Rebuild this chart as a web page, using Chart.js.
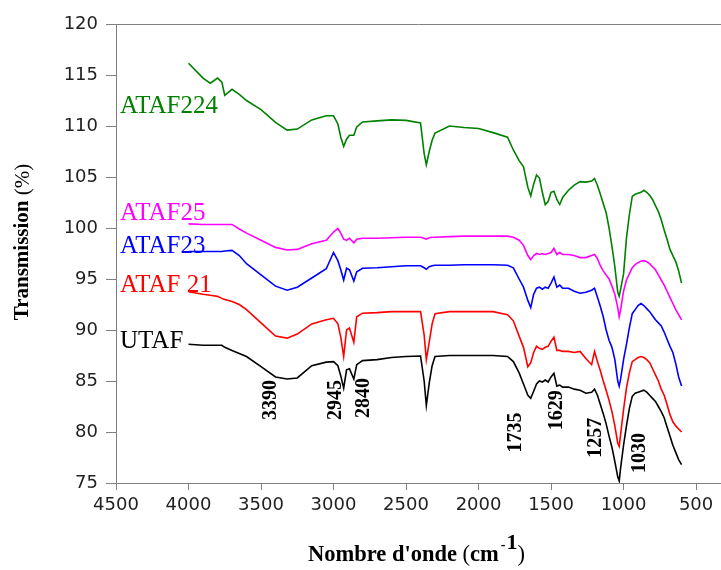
<!DOCTYPE html>
<html><head><meta charset="utf-8">
<script src="https://cdn.jsdelivr.net/npm/chart.js@4/dist/chart.umd.min.js"></script>
<style>html,body{margin:0;padding:0;background:#fff;}</style>
</head><body>
<canvas id="c" width="721" height="570"></canvas>
<script>
const wavenumbers = [4000,3900,3850,3800,3770,3750,3700,3650,3600,3500,3400,3320,3250,3150,3050,3000,2970,2950,2930,2910,2890,2860,2840,2800,2700,2600,2500,2400,2375,2360,2340,2320,2300,2200,2100,2000,1900,1800,1760,1720,1690,1660,1640,1620,1600,1580,1560,1540,1520,1500,1480,1460,1440,1420,1380,1340,1300,1260,1220,1200,1180,1160,1140,1120,1100,1080,1060,1040,1030,1020,1000,980,960,940,920,900,880,860,840,820,800,780,760,740,720,700,680,660,640,620,600];

const utaf = [88.6,88.5,88.5,88.5,88.5,88.3,88.0,87.7,87.4,
86.4,85.4,85.2,85.3,86.5,86.85,86.9,
86.5,85.5,84.3,86.1,86.2,85.2,86.6,87.0,
87.1,87.3,87.4,87.45,85.0,82.6,84.8,86.5,87.4,
87.5,87.5,87.5,87.5,87.4,86.9,85.8,84.7,83.6,83.3,
84.0,84.7,85.0,84.9,85.1,84.9,85.4,85.75,84.5,84.6,84.4,
84.4,84.2,84.1,83.8,83.9,84.2,83.6,82.7,81.8,80.8,79.6,78.5,77.1,75.6,75.2,76.5,
78.7,80.6,82.3,83.5,83.8,83.9,84.0,84.1,83.9,83.6,83.3,83.0,82.5,82.0,81.4,80.5,79.6,78.7,78.0,77.3,76.8];

const ataf21 = [93.75,93.5,93.4,93.3,93.1,93.0,92.8,92.5,92.0,
90.7,89.4,89.2,89.6,90.6,91.0,91.15,
90.6,89.3,87.4,90.0,90.2,88.8,91.3,91.65,
91.7,91.8,91.8,91.8,89.5,87.1,88.8,90.6,91.6,
91.8,91.8,91.8,91.8,91.5,90.9,89.4,88.3,86.4,86.8,
87.8,88.4,88.2,88.1,88.3,88.4,88.9,89.3,88.0,88.0,87.9,
87.9,87.8,87.9,87.2,86.6,87.9,86.9,86.0,85.0,84.1,83.1,82.0,80.6,78.9,78.6,79.8,
82.2,84.3,85.8,86.9,87.1,87.3,87.4,87.3,87.1,86.8,86.2,85.6,85.0,84.2,83.6,82.7,81.7,81.0,80.6,80.3,80.0];

const ataf23 = [97.7,97.7,97.7,97.7,97.7,97.75,97.8,97.3,96.5,
95.4,94.3,93.9,94.2,95.1,96.0,97.6,
96.8,95.9,94.9,96.05,95.9,94.8,95.7,96.05,
96.1,96.2,96.3,96.3,96.1,95.95,96.2,96.3,96.35,
96.35,96.4,96.4,96.4,96.35,96.1,95.0,94.2,92.9,92.2,
93.5,94.1,94.2,94.0,94.2,94.1,94.6,95.2,94.2,94.4,94.1,
94.1,93.8,93.6,93.7,93.9,94.1,93.2,92.3,91.3,90.0,89.0,88.3,87.1,85.0,84.5,85.2,
87.1,88.6,90.2,91.6,92.0,92.4,92.6,92.4,92.1,91.8,91.4,91.0,90.7,90.4,89.8,89.1,88.4,87.8,86.7,85.4,84.5];

const ataf25 = [100.4,100.35,100.35,100.35,100.35,100.35,100.35,99.9,99.5,
98.8,98.1,97.85,97.9,98.45,98.8,99.6,
99.95,99.5,98.9,98.8,99.0,98.55,98.9,99.0,
99.0,99.05,99.1,99.1,99.0,98.9,99.05,99.1,99.1,
99.15,99.2,99.2,99.2,99.2,99.1,98.8,98.3,97.3,96.9,
97.3,97.5,97.4,97.5,97.4,97.5,97.6,98.0,97.4,97.6,97.4,
97.4,97.3,97.1,97.1,97.3,97.4,97.0,96.3,95.8,95.4,95.0,94.3,93.5,92.2,91.3,92.0,
93.8,94.9,95.5,96.1,96.4,96.6,96.75,96.8,96.7,96.5,96.2,95.9,95.4,94.9,94.4,93.8,93.2,92.6,92.0,91.5,91.0];

const ataf224 = [116.15,114.7,114.2,114.7,114.3,113.0,113.6,113.1,112.5,
111.6,110.35,109.6,109.7,110.6,111.0,111.0,
110.2,108.9,108.0,108.7,109.1,109.1,109.9,110.4,
110.5,110.6,110.55,110.3,107.3,106.2,107.5,108.6,109.3,
110.0,109.85,109.75,109.35,108.9,107.65,106.6,106.0,104.0,103.15,
104.3,105.2,104.9,103.5,102.3,102.6,103.5,103.6,102.8,102.3,103.0,
103.7,104.2,104.55,104.5,104.6,104.85,104.2,103.3,102.4,101.5,100.0,98.2,96.2,93.7,93.3,94.0,
95.5,99.0,101.3,103.1,103.3,103.4,103.5,103.7,103.5,103.2,102.8,102.2,101.6,100.8,99.8,98.9,97.9,97.3,96.7,95.8,94.6];

const seriesNames = ['UTAF','ATAF 21','ATAF23','ATAF25','ATAF224'];
const seriesValues = [utaf, ataf21, ataf23, ataf25, ataf224];
const seriesColors = ['#000000','#ff0000','#0000ff','#ff00ff','#008000'];
const seriesLabelLevels = [88.9, 94.4, 98.2, 101.4, 111.9];

const xTicks = [4500,4000,3500,3000,2500,2000,1500,1000,500];
const peakLabels = ['3390','2945','2840','1735','1629','1257','1030'];
const peakLabelX = [3431,2983,2793,1741,1459,1190,886];
const peakLabelTop = [85.1,85.1,85.3,81.9,84.1,81.4,79.9];

const yTitleMain = 'Transmission ';
const yTitleUnit = '(%)';
const xTitleMain = "Nombre d'onde ";

const textPlugin = {
  id: 'texts',
  afterDraw(chart) {
    const {ctx, chartArea: a, scales: {x, y}} = chart;
    ctx.save();
    ctx.strokeStyle = '#808080'; ctx.lineWidth = 1;
    ctx.beginPath(); ctx.moveTo(a.left, a.top + 0.5); ctx.lineTo(a.right, a.top + 0.5); ctx.stroke();

    ctx.font = '25px "Liberation Serif"'; ctx.textBaseline = 'middle'; ctx.textAlign = 'left';
    seriesNames.forEach((n, i) => {
      ctx.fillStyle = seriesColors[i];
      ctx.fillText(n, a.left + 4, y.getPixelForValue(seriesLabelLevels[i]));
    });

    ctx.font = 'bold 20px "Liberation Serif"'; ctx.fillStyle = '#000';
    peakLabels.forEach((p, i) => {
      ctx.save();
      ctx.translate(x.getPixelForValue(peakLabelX[i]), y.getPixelForValue(peakLabelTop[i]));
      ctx.rotate(-Math.PI / 2);
      ctx.textAlign = 'right'; ctx.textBaseline = 'middle';
      ctx.fillText(p, 0, 0);
      ctx.restore();
    });

    // y title
    ctx.save();
    ctx.translate(23, 242); ctx.rotate(-Math.PI / 2);
    ctx.textBaseline = 'middle'; ctx.textAlign = 'left';
    ctx.font = 'bold 21px "Liberation Serif"';
    const w1 = ctx.measureText(yTitleMain).width;
    ctx.font = '21px "Liberation Serif"';
    const w2 = ctx.measureText(yTitleUnit).width;
    let sx = -(w1 + w2) / 2;
    ctx.font = 'bold 21px "Liberation Serif"';
    ctx.fillText(yTitleMain, sx, 0);
    ctx.font = '21px "Liberation Serif"';
    ctx.fillText(yTitleUnit, sx + w1, 0);
    ctx.restore();

    // x title
    ctx.textAlign = 'left'; ctx.textBaseline = 'alphabetic';
    let x0 = 308; const base = 561;
    ctx.font = 'bold 22.5px "Liberation Serif"';
    ctx.fillText(xTitleMain, x0, base);
    x0 += ctx.measureText(xTitleMain).width;
    ctx.font = '22.5px "Liberation Serif"';
    ctx.fillText('(', x0, base);
    x0 += ctx.measureText('(').width;
    ctx.font = 'bold 22.5px "Liberation Serif"';
    ctx.fillText('cm', x0, base);
    x0 += ctx.measureText('cm').width + 2;
    ctx.font = 'bold 14px "Liberation Serif"';
    ctx.fillText('-', x0, base - 12);
    x0 += ctx.measureText('-').width + 1;
    ctx.font = 'bold 22px "Liberation Serif"';
    ctx.fillText('1', x0, base - 12);
    x0 += ctx.measureText('1').width;
    ctx.font = '22.5px "Liberation Serif"';
    ctx.fillText(')', x0, base);
    ctx.restore();
  }
};

new Chart(document.getElementById('c'), {
  type: 'line',
  data: {
    datasets: seriesNames.map((n, i) => ({
      label: n,
      data: wavenumbers.map((w, j) => ({x: w, y: seriesValues[i][j]})),
      borderColor: seriesColors[i],
      borderWidth: 1.6,
      pointRadius: 0,
      tension: 0,
      fill: false
    }))
  },
  options: {
    responsive: false,
    animation: false,
    layout: {padding: {top: 24, right: 0, left: 0, bottom: 0}},
    plugins: {legend: {display: false}, tooltip: {enabled: false}},
    scales: {
      x: {
        type: 'linear', reverse: true, min: 328, max: 4500,
        afterBuildTicks: s => { s.ticks = xTicks.map(v => ({value: v})); },
        afterFit: s => { s.height = 87; },
        ticks: {color: '#222', font: {family: '"DejaVu Sans"', size: 18}, padding: 5, maxRotation: 0, autoSkip: false,
                callback: v => String(v)},
        grid: {drawOnChartArea: false, tickLength: 7, color: '#808080'},
        border: {color: '#808080'}
      },
      y: {
        min: 75, max: 120,
        afterFit: s => { s.width = 116; },
        ticks: {stepSize: 5, color: '#222', font: {family: '"DejaVu Sans"', size: 18}, padding: 8,
                callback: v => String(v)},
        grid: {drawOnChartArea: false, tickLength: 10, color: '#808080'},
        border: {color: '#808080'}
      }
    }
  },
  plugins: [textPlugin]
});
</script>
</body></html>
